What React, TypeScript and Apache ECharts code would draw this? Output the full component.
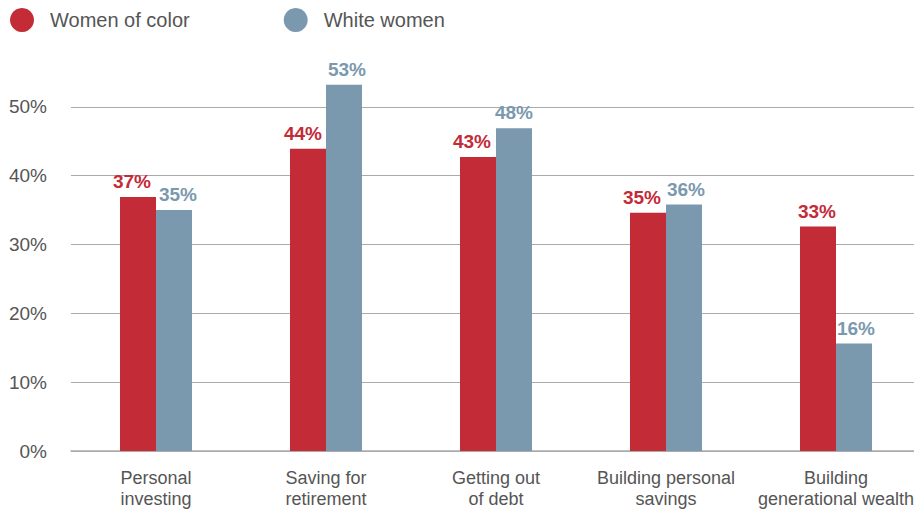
import React, { useEffect, useRef } from "react";
import * as echarts from "echarts";

const categories = [
  "Personal\ninvesting",
  "Saving for\nretirement",
  "Getting out\nof debt",
  "Building personal\nsavings",
  "Building\ngenerational wealth",
];
const seriesNames = ["Women of color", "White women"];
const womenOfColor = [36.9, 43.9, 42.7, 34.6, 32.6];
const whiteWomen = [35.0, 53.2, 46.9, 35.8, 15.6];
const womenOfColorLabels = ["37%", "44%", "43%", "35%", "33%"];
const whiteWomenLabels = ["35%", "53%", "48%", "36%", "16%"];
const yTicks = [0, 10, 20, 30, 40, 50, 60];

// horizontal nudges of the value labels (style only)
const redLabelShift = [-6, -5, -6, -6, -1];
const blueLabelShift = [4, 3, 0, 2, 2];

const RED = "#C32B37";
const BLUE = "#7A99AE";
const FONT = "'Liberation Sans', Arial, Helvetica, sans-serif";

export default function App() {
  const ref = useRef<HTMLDivElement>(null);
  useEffect(() => {
    if (!ref.current) return;
    const chart = echarts.init(ref.current, undefined, { renderer: "svg" });
    chart.setOption({
      animation: false,
      textStyle: { fontFamily: FONT },
      legend: {
        left: 5,
        top: 3,
        icon: "circle",
        itemWidth: 24,
        itemHeight: 24,
        itemGap: 94,
        data: seriesNames,
        textStyle: {
          fontFamily: FONT,
          fontSize: 20,
          color: "#555",
          padding: [0, 0, 0, 11],
        },
      },
      grid: { left: 71, right: 1, top: 38, bottom: 61, containLabel: false },
      xAxis: {
        type: "category",
        data: categories,
        axisLine: { show: true, lineStyle: { color: "#aaa", width: 1.5 } },
        axisTick: { show: false },
        axisLabel: {
          margin: 16,
          fontFamily: FONT,
          fontSize: 18,
          color: "#555",
          lineHeight: 21,
          interval: 0,
        },
      },
      yAxis: {
        type: "value",
        min: yTicks[0],
        max: yTicks[yTicks.length - 1],
        interval: 10,
        axisLine: { show: false },
        axisTick: { show: false },
        axisLabel: {
          margin: 24,
          fontFamily: FONT,
          fontSize: 19,
          color: "#555",
          showMaxLabel: false,
          formatter: (v: number) => `${v}%`,
        },
        splitLine: {
          show: true,
          showMaxLine: false,
          lineStyle: { color: "#aaa", width: 1.2 },
        },
      },
      series: [
        {
          name: seriesNames[0],
          type: "bar",
          data: womenOfColor.map((v, i) => ({
            value: v,
            label: { offset: [redLabelShift[i], 0] },
          })),
          barWidth: 36,
          barGap: "0%",
          itemStyle: { color: RED },
          label: {
            show: true,
            position: "top",
            distance: 6,
            fontFamily: FONT,
            fontSize: 19,
            fontWeight: "bold",
            color: RED,
            formatter: (p: any) => womenOfColorLabels[p.dataIndex],
          },
        },
        {
          name: seriesNames[1],
          type: "bar",
          data: whiteWomen.map((v, i) => ({
            value: v,
            label: { offset: [blueLabelShift[i], 0] },
          })),
          barWidth: 36,
          barGap: "0%",
          itemStyle: { color: BLUE },
          label: {
            show: true,
            position: "top",
            distance: 6,
            fontFamily: FONT,
            fontSize: 19,
            fontWeight: "bold",
            color: BLUE,
            formatter: (p: any) => whiteWomenLabels[p.dataIndex],
          },
        },
      ],
    });
    return () => chart.dispose();
  }, []);
  return (
    <div style={{ width: 914, height: 512, position: "absolute", left: 0, top: 0, overflow: "hidden" }}>
      <div ref={ref} style={{ width: 922, height: 512 }} />
    </div>
  );
}
